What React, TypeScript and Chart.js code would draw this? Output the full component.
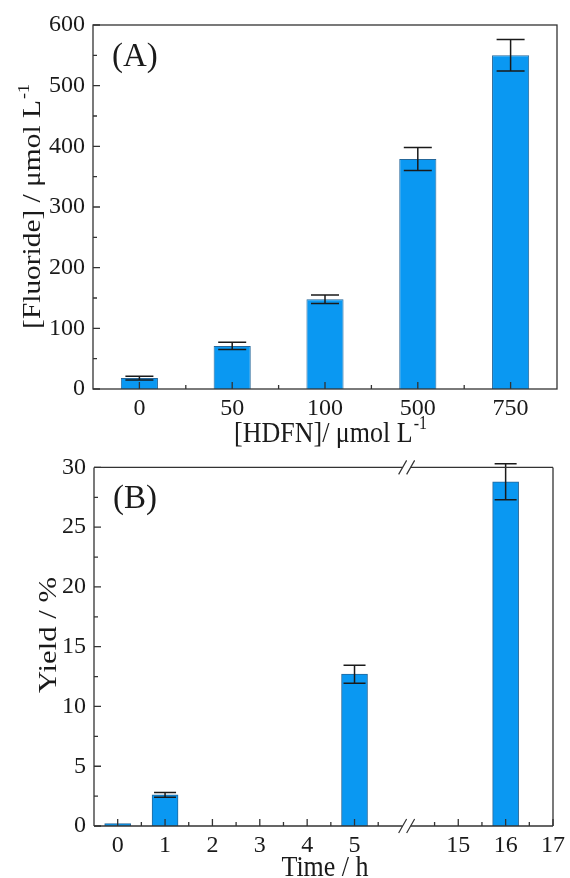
import React, { useEffect, useRef } from "react";
import { Chart, registerables } from "chart.js";
Chart.register(...registerables);

// ---------- Panel A data ----------
const hdfnLabels = ["0", "50", "100", "500", "750"];
const fluorideValues = [18, 71, 148, 379, 550];
const fluorideErrors = [3, 6, 7, 19, 26];
const fluorideMin = 0;
const fluorideMax = 600;
const fluorideStep = 100;

// ---------- Panel B data ----------
const timePoints = [0, 1, 5, 16];
const yieldValues = [0.2, 2.6, 12.7, 28.8];
const yieldErrors = [0, 0.2, 0.75, 1.5];
const timeTicks = [0, 1, 2, 3, 4, 5, 15, 16, 17];
const timeMinorTicks = [0.5, 1.5, 2.5, 3.5, 4.5, 5.5, 14.5, 15.5, 16.5];
const yieldMin = 0;
const yieldMax = 30;
const yieldStep = 5;

// axis break: times after the break are shifted left
const BREAK_SHIFT = 7.81;
const toDisp = (t: number) => (t <= 10 ? t : t - BREAK_SHIFT);
const BREAK_AT = 6.1;

const FONT = "'Liberation Serif', 'Times New Roman', serif";
const BAR_FILL = "#0a98f2";
const BAR_BORDER = "#25679a";
const FRAME = "#333333";
const INK = "#1a1a1a";

const A_HEIGHT = 460;
const B_TOP = 445;
const B_HEIGHT = 433;

function drawTitle(
  ctx: CanvasRenderingContext2D,
  main: string,
  sup: string,
  cx: number,
  cy: number,
  size: number,
  rotate: boolean,
  stretch: number
) {
  ctx.save();
  ctx.translate(cx, cy);
  if (rotate) {
    ctx.rotate(-Math.PI / 2);
    ctx.scale(stretch, 1);
  } else {
    ctx.scale(1, stretch);
  }
  ctx.fillStyle = INK;
  ctx.textBaseline = "alphabetic";
  ctx.textAlign = "left";
  ctx.font = `${size}px ${FONT}`;
  const w1 = ctx.measureText(main).width;
  const supSize = Math.round(size * 0.6);
  ctx.font = `${supSize}px ${FONT}`;
  const w2 = sup ? ctx.measureText(sup).width : 0;
  const total = w1 + w2;
  const base = size * 0.33;
  ctx.font = `${size}px ${FONT}`;
  ctx.fillText(main, -total / 2, base);
  if (sup) {
    ctx.font = `${supSize}px ${FONT}`;
    ctx.fillText(sup, -total / 2 + w1 + 1, base - size * 0.42);
  }
  ctx.restore();
}

function drawErrorBars(
  chart: any,
  xs: number[],
  vals: number[],
  errs: number[],
  cap: number
) {
  const ctx = chart.ctx;
  const xS = chart.scales.x;
  const yS = chart.scales.y;
  ctx.save();
  ctx.strokeStyle = INK;
  ctx.lineWidth = 1.5;
  vals.forEach((v, i) => {
    const e = errs[i];
    if (!e) return;
    const px = xS.getPixelForValue(xs[i]);
    const yt = yS.getPixelForValue(v + e);
    const yb = yS.getPixelForValue(v - e);
    ctx.beginPath();
    ctx.moveTo(px, yt);
    ctx.lineTo(px, yb);
    ctx.moveTo(px - cap, yt);
    ctx.lineTo(px + cap, yt);
    ctx.moveTo(px - cap, yb);
    ctx.lineTo(px + cap, yb);
    ctx.stroke();
  });
  ctx.restore();
}

const panelAPlugin = {
  id: "panelA",
  afterDatasetsDraw(chart: any) {
    const ctx = chart.ctx;
    const a = chart.chartArea;
    const xS = chart.scales.x;
    const yS = chart.scales.y;
    drawErrorBars(
      chart,
      hdfnLabels.map((_, i) => i),
      fluorideValues,
      fluorideErrors,
      14
    );
    ctx.save();
    ctx.strokeStyle = FRAME;
    ctx.lineWidth = 1.3;
    ctx.strokeRect(a.left, a.top, a.right - a.left, a.bottom - a.top);
    ctx.beginPath();
    for (let v = fluorideMin; v <= fluorideMax; v += fluorideStep / 2) {
      const py = yS.getPixelForValue(v);
      const len = v % fluorideStep === 0 ? 7 : 4;
      ctx.moveTo(a.left, py);
      ctx.lineTo(a.left + len, py);
    }
    hdfnLabels.forEach((_, i) => {
      const px = xS.getPixelForValue(i);
      ctx.moveTo(px, a.bottom);
      ctx.lineTo(px, a.bottom - 7);
      if (i < hdfnLabels.length - 1) {
        const mx = (px + xS.getPixelForValue(i + 1)) / 2;
        ctx.moveTo(mx, a.bottom);
        ctx.lineTo(mx, a.bottom - 4);
      }
    });
    ctx.stroke();
    ctx.restore();

    ctx.save();
    ctx.fillStyle = INK;
    ctx.font = `33px ${FONT}`;
    ctx.textBaseline = "middle";
    ctx.textAlign = "left";
    ctx.fillText("(A)", a.left + 19, a.top + 32);
    ctx.restore();

    drawTitle(ctx, "[Fluoride] / \u03bcmol L", "-1", 31, 207, 26, true, 1.13);
    drawTitle(ctx, "[HDFN]/ \u03bcmol L", "-1", 330, 432, 26, false, 1.12);
  },
};

const panelBPlugin = {
  id: "panelB",
  afterDatasetsDraw(chart: any) {
    const ctx = chart.ctx;
    const a = chart.chartArea;
    const xS = chart.scales.x;
    const yS = chart.scales.y;
    drawErrorBars(
      chart,
      timePoints.map(toDisp),
      yieldValues,
      yieldErrors,
      11
    );
    const bx = xS.getPixelForValue(BREAK_AT);
    ctx.save();
    ctx.strokeStyle = FRAME;
    ctx.lineWidth = 1.3;
    ctx.beginPath();
    ctx.moveTo(a.left, a.top);
    ctx.lineTo(a.left, a.bottom);
    ctx.moveTo(a.right, a.top);
    ctx.lineTo(a.right, a.bottom);
    [a.top, a.bottom].forEach((yy) => {
      ctx.moveTo(a.left, yy);
      ctx.lineTo(bx - 4, yy);
      ctx.moveTo(bx + 4, yy);
      ctx.lineTo(a.right, yy);
    });
    ctx.stroke();
    ctx.lineWidth = 1.2;
    ctx.beginPath();
    [a.top, a.bottom].forEach((yy) => {
      [-4, 4].forEach((dx) => {
        ctx.moveTo(bx + dx - 4, yy + 7);
        ctx.lineTo(bx + dx + 4, yy - 7);
      });
    });
    ctx.stroke();
    ctx.lineWidth = 1.3;
    ctx.beginPath();
    for (let v = yieldMin; v <= yieldMax; v += yieldStep / 2) {
      const py = yS.getPixelForValue(v);
      const len = v % yieldStep === 0 ? 7 : 4;
      ctx.moveTo(a.left, py);
      ctx.lineTo(a.left + len, py);
    }
    timeTicks.forEach((t) => {
      const px = xS.getPixelForValue(toDisp(t));
      ctx.moveTo(px, a.bottom);
      ctx.lineTo(px, a.bottom - 7);
    });
    timeMinorTicks.forEach((t) => {
      const px = xS.getPixelForValue(toDisp(t));
      ctx.moveTo(px, a.bottom);
      ctx.lineTo(px, a.bottom - 4);
    });
    ctx.stroke();
    ctx.restore();

    ctx.save();
    ctx.fillStyle = INK;
    ctx.font = `33px ${FONT}`;
    ctx.textBaseline = "middle";
    ctx.textAlign = "left";
    ctx.fillText("(B)", a.left + 19, a.top + 32);
    ctx.restore();

    drawTitle(ctx, "Yield / %", "", 47, 635 - B_TOP, 26, true, 1.18);
    drawTitle(ctx, "Time / h", "", 325, 866 - B_TOP, 26, false, 1.12);
  },
};

const tickFont = { family: FONT, size: 24 };

export default function App() {
  const refA = useRef<HTMLCanvasElement>(null);
  const refB = useRef<HTMLCanvasElement>(null);

  useEffect(() => {
    const chartA = new Chart(refA.current!, {
      type: "bar",
      data: {
        labels: hdfnLabels,
        datasets: [
          {
            data: fluorideValues,
            backgroundColor: BAR_FILL,
            borderColor: BAR_BORDER,
            borderWidth: 1,
            barPercentage: 0.4,
            categoryPercentage: 1,
          },
        ],
      },
      options: {
        animation: false,
        responsive: false,
        maintainAspectRatio: false,
        devicePixelRatio: 1,
        layout: { padding: { left: 0, right: 13, top: 25, bottom: 0 } },
        plugins: { legend: { display: false }, tooltip: { enabled: false } },
        scales: {
          x: {
            type: "category",
            offset: true,
            grid: { display: false, drawTicks: false },
            border: { display: false },
            ticks: { font: tickFont, color: INK, padding: 5, maxRotation: 0 },
            afterFit: (s: any) => {
              s.height = A_HEIGHT - 389;
            },
          },
          y: {
            min: fluorideMin,
            max: fluorideMax,
            grid: { display: false, drawTicks: false },
            border: { display: false },
            ticks: { stepSize: fluorideStep, font: tickFont, color: INK, padding: 8 },
            afterFit: (s: any) => {
              s.width = 93;
            },
          },
        },
      },
      plugins: [panelAPlugin],
    });

    const chartB = new Chart(refB.current!, {
      type: "bar",
      data: {
        datasets: [
          {
            data: timePoints.map((t, i) => ({ x: toDisp(t), y: yieldValues[i] })),
            backgroundColor: BAR_FILL,
            borderColor: BAR_BORDER,
            borderWidth: 1,
            barThickness: 26,
          },
        ],
      },
      options: {
        animation: false,
        responsive: false,
        maintainAspectRatio: false,
        devicePixelRatio: 1,
        layout: { padding: { left: 0, right: 11, top: 18, bottom: 0 } },
        plugins: { legend: { display: false }, tooltip: { enabled: false } },
        scales: {
          x: {
            type: "linear",
            offset: false,
            min: -0.5,
            max: toDisp(17),
            grid: { display: false, drawTicks: false },
            border: { display: false },
            afterBuildTicks: (s: any) => {
              s.ticks = timeTicks.map((t) => ({ value: toDisp(t) }));
            },
            ticks: {
              autoSkip: false,
              font: tickFont,
              color: INK,
              padding: 5,
              maxRotation: 0,
              callback: (value: any) => {
                const t = timeTicks.find((tt) => Math.abs(toDisp(tt) - value) < 1e-6);
                return t === undefined ? "" : String(t);
              },
            },
            afterFit: (s: any) => {
              s.height = 52;
            },
          },
          y: {
            min: yieldMin,
            max: yieldMax,
            grid: { display: false, drawTicks: false },
            border: { display: false },
            ticks: { stepSize: yieldStep, font: tickFont, color: INK, padding: 8 },
            afterFit: (s: any) => {
              s.width = 94;
            },
          },
        },
      },
      plugins: [panelBPlugin],
    });

    return () => {
      chartA.destroy();
      chartB.destroy();
    };
  }, []);

  return (
    <div
      style={{
        position: "fixed",
        left: 0,
        top: 0,
        width: 570,
        height: 878,
        background: "#ffffff",
      }}
    >
      <canvas
        ref={refA}
        width={570}
        height={A_HEIGHT}
        style={{ position: "absolute", left: 0, top: 0, width: 570, height: A_HEIGHT }}
      />
      <canvas
        ref={refB}
        width={570}
        height={B_HEIGHT}
        style={{ position: "absolute", left: 0, top: B_TOP, width: 570, height: B_HEIGHT }}
      />
    </div>
  );
}
